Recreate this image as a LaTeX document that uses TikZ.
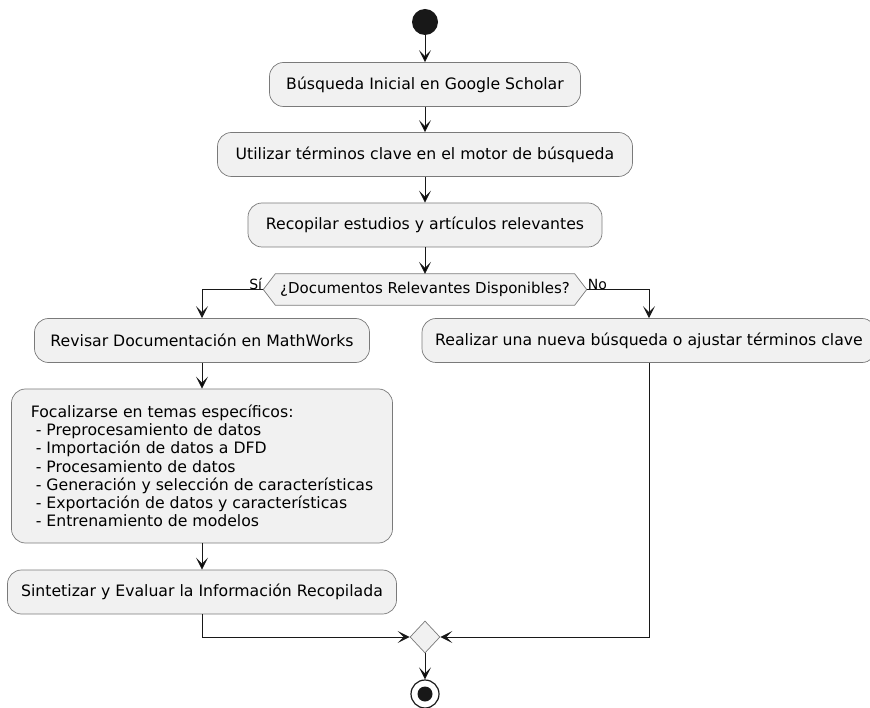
\documentclass[tikz,border=0pt]{standalone}
\usepackage{fontspec}
\setmainfont{DejaVu Sans}
\usetikzlibrary{arrows.meta,shapes.geometric}
\definecolor{boxfill}{HTML}{F1F1F1}
\definecolor{boxline}{HTML}{7A7A7A}
\definecolor{ink}{HTML}{181818}
\newcommand{\ind}{\hspace*{5pt}- }

\begin{document}
\begin{tikzpicture}[x=1pt,y=-1pt,
    act/.style={draw=boxline,line width=0.7pt,fill=boxfill,rounded corners=14pt,
      minimum height=44pt,inner sep=0pt,font=\fontsize{15.7}{18.2}\selectfont},
    flow/.style={-{Stealth[length=12pt,width=12pt,inset=6pt]},draw=ink,line width=1pt},
    lbl/.style={font=\fontsize{14}{16}\selectfont,inner sep=1pt}]
  \useasboundingbox (0,0) rectangle (870,708);
  \node (start) [circle,fill=ink,minimum size=26pt,inner sep=0pt] at (425,22) {};
  \node (b1) [act,minimum width=311pt] at (425,84.5) {Búsqueda Inicial en Google Scholar};
  \node (b2) [act,minimum width=415pt] at (425,154.5) {Utilizar términos clave en el motor de búsqueda};
  \node (b3) [act,minimum width=354pt] at (425,225) {Recopilar estudios y artículos relevantes};
  % decision hexagon
  \node (dec) [minimum width=323pt,minimum height=31pt,inner sep=0pt] at (425,289.5) {};
  \draw[draw=boxline,line width=0.7pt,fill=boxfill] (dec.west) -- ([xshift=12pt]dec.north west)
    -- ([xshift=-12pt]dec.north east) -- (dec.east) -- ([xshift=-12pt]dec.south east)
    -- ([xshift=12pt]dec.south west) -- cycle;
  \node (dectext) [font=\fontsize{15}{17}\selectfont] at (dec) {¿Documentos Relevantes Disponibles?};
  \node (si) [lbl,anchor=south east] at ([yshift=-1pt]dec.west) {Sí};
  \node (no) [lbl,anchor=south west] at ([yshift=-1pt]dec.east) {No};
  \node (rev) [act,minimum width=335pt] at (202,340.5) {Revisar Documentación en MathWorks};
  \node (nueva) [act,minimum width=454pt] at (649,340.5) {Realizar una nueva búsqueda o ajustar términos clave};
  \node (foc) [act,minimum width=381pt,minimum height=154pt,align=left] at (202,466) {Focalizarse en temas específicos:\\
    \ind Preprocesamiento de datos\\
    \ind Importación de datos a DFD\\
    \ind Procesamiento de datos\\
    \ind Generación y selección de características\\
    \ind Exportación de datos y características\\
    \ind Entrenamiento de modelos};
  \node (sint) [act,minimum width=389pt] at (202,592) {Sintetizar y Evaluar la Información Recopilada};
  \node (merge) [diamond,draw=boxline,line width=0.7pt,fill=boxfill,minimum width=30pt,
    minimum height=32pt,inner sep=0pt] at (425,637) {};
  \node (stop) [circle,draw=ink,line width=1.2pt,minimum size=28pt,inner sep=0pt] at (425,694) {};
  \node (stopdot) [circle,fill=ink,minimum size=15pt,inner sep=0pt] at (stop) {};
  \path[flow]
    (start) edge (b1)
    (b1) edge (b2)
    (b2) edge (b3)
    (b3) edge (dec)
    (rev) edge (foc)
    (foc) edge (sint)
    (merge) edge (stop);
  \draw[flow] (dec.west) -| (rev.north);
  \draw[flow] (dec.east) -| (nueva.north);
  \draw[flow] (sint.south) |- (merge.west);
  \draw[flow] (nueva.south) |- (merge.east);
\end{tikzpicture}
\end{document}
